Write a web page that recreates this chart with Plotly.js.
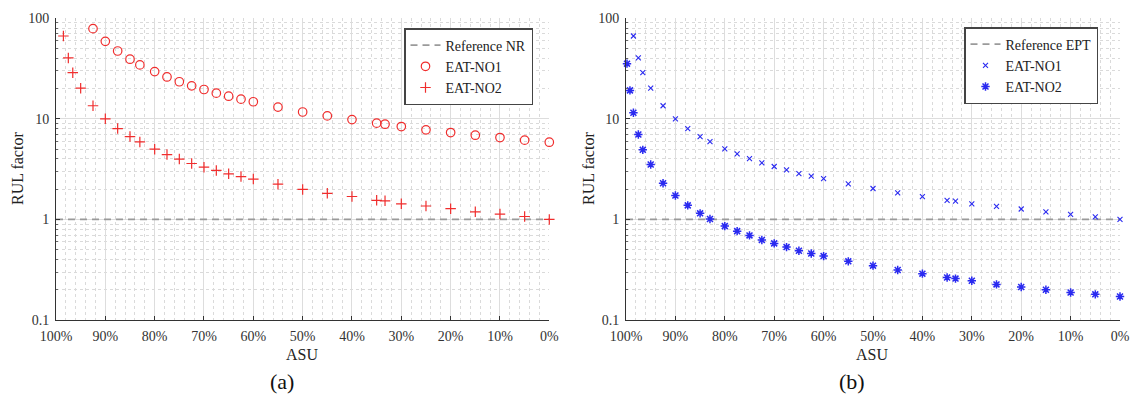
<!DOCTYPE html>
<html>
<head>
<meta charset="utf-8">
<script src="https://cdn.plot.ly/plotly-3.0.1.min.js"></script>
<style>html,body{margin:0;padding:0;background:#fff;}#chart{width:1132px;height:395px;}</style>
</head>
<body>
<div id="chart"></div>
<script>
// ---- data ----
const asuTicks = [100, 90, 80, 70, 60, 50, 40, 30, 20, 10, 0];
const asuTickLabels = ['100%', '90%', '80%', '70%', '60%', '50%', '40%', '30%', '20%', '10%', '0%'];
const rulTicks = [0.1, 1, 10, 100];
const rulTickLabels = ['0.1', '1', '10', '100'];

const refX = [100, 0];
const refY = [1, 1];

// (a) EAT-NO1
const asuA1 = [92.5, 90, 87.5, 85, 83, 80, 77.5, 75, 72.5, 70, 67.5, 65, 62.5, 60, 55, 50, 45, 40, 35, 33.3, 30, 25, 20, 15, 10, 5, 0];
const rulA1 = [78.9, 59, 47.3, 39.2, 34.4, 29.5, 26.1, 23.4, 21.3, 19.6, 18.0, 16.8, 15.7, 14.8, 13.1, 11.7, 10.7, 9.84, 9.06, 8.85, 8.39, 7.78, 7.31, 6.88, 6.52, 6.14, 5.86];
// (a) EAT-NO2
const asuA2 = [98.5, 97.5, 96.6, 95, 92.5, 90, 87.5, 85, 83, 80, 77.5, 75, 72.5, 70, 67.5, 65, 62.5, 60, 55, 50, 45, 40, 35, 33.3, 30, 25, 20, 15, 10, 5, 0];
const rulA2 = [66.7, 40.4, 28.8, 20.2, 13.5, 10.0, 8.0, 6.67, 5.9, 5.0, 4.42, 3.98, 3.6, 3.31, 3.07, 2.84, 2.67, 2.52, 2.24, 1.99, 1.82, 1.69, 1.55, 1.53, 1.43, 1.36, 1.28, 1.19, 1.13, 1.07, 1.0];
// (b) EAT-NO1
const asuB1 = [98.5, 97.5, 96.6, 95, 92.5, 90, 87.5, 85, 83, 80, 77.5, 75, 72.5, 70, 67.5, 65, 62.5, 60, 55, 50, 45, 40, 35, 33.3, 30, 25, 20, 15, 10, 5, 0];
const rulB1 = [66.7, 40.4, 28.8, 20.2, 13.5, 10, 8, 6.67, 5.95, 5.03, 4.49, 4.03, 3.66, 3.36, 3.11, 2.86, 2.69, 2.54, 2.26, 2.03, 1.84, 1.69, 1.55, 1.52, 1.43, 1.35, 1.27, 1.19, 1.12, 1.06, 1.0];
// (b) EAT-NO2
const asuB2 = [99.8, 99.2, 98.5, 97.5, 96.6, 95, 92.5, 90, 87.5, 85, 83, 80, 77.5, 75, 72.5, 70, 67.5, 65, 62.5, 60, 55, 50, 45, 40, 35, 33.3, 30, 25, 20, 15, 10, 5, 0];
const rulB2 = [35.4, 19.2, 11.5, 6.98, 4.92, 3.52, 2.29, 1.73, 1.38, 1.15, 1.01, 0.858, 0.765, 0.694, 0.624, 0.578, 0.531, 0.489, 0.459, 0.432, 0.383, 0.347, 0.314, 0.289, 0.265, 0.258, 0.246, 0.226, 0.213, 0.2, 0.188, 0.18, 0.171];

// ---- styling helpers ----
const W = 1132, H = 395;
const px = x => x / W;
const py = y => 1 - y / H;
const FONT = 'Liberation Serif';
const RED = '#f02d2d';
const BLUE = '#2a2af0';
const minorLog = [0.2,0.3,0.4,0.5,0.6,0.7,0.8,0.9,2,3,4,5,6,7,8,9,20,30,40,50,60,70,80,90];

const refLine = {color: '#9a9a9a', width: 1.8, dash: '7px,5px'};

const traces = [
  {x: refX, y: refY, xaxis: 'x', yaxis: 'y', mode: 'lines', name: 'Reference NR', line: refLine, legend: 'legend'},
  {x: asuA1, y: rulA1, xaxis: 'x', yaxis: 'y', mode: 'markers', name: 'EAT-NO1', legend: 'legend', cliponaxis: false,
   marker: {symbol: 'circle-open', size: 8.5, color: RED, line: {width: 1.2, color: RED}}},
  {x: asuA2, y: rulA2, xaxis: 'x', yaxis: 'y', mode: 'markers', name: 'EAT-NO2', legend: 'legend', cliponaxis: false,
   marker: {symbol: 'cross-thin-open', size: 7.5, color: RED, line: {width: 1.2, color: RED}}},
  {x: refX, y: refY, xaxis: 'x2', yaxis: 'y2', mode: 'lines', name: 'Reference EPT', line: refLine, legend: 'legend2'},
  {x: asuB1, y: rulB1, xaxis: 'x2', yaxis: 'y2', mode: 'markers', name: 'EAT-NO1', legend: 'legend2', cliponaxis: false,
   marker: {symbol: 'x-thin-open', size: 5, color: BLUE, line: {width: 1.1, color: BLUE}}},
  {x: asuB2, y: rulB2, xaxis: 'x2', yaxis: 'y2', mode: 'markers', name: 'EAT-NO2', legend: 'legend2', cliponaxis: false,
   marker: {symbol: 'asterisk-open', size: 7, color: BLUE, line: {width: 1.5, color: BLUE}}}
];

function xAxis(domain, anchor) {
  return {
    domain: domain, anchor: anchor, range: [100, 0], tickmode: 'array', tickvals: asuTicks, ticktext: asuTickLabels,
    showline: true, linecolor: '#333', linewidth: 1, ticks: 'inside', ticklen: 4, tickcolor: '#333',
    showgrid: true, gridcolor: '#dddddd', gridwidth: 1, zeroline: false, automargin: false,
    tickfont: {family: FONT, size: 14, color: '#333'}, ticklabelstandoff: 3,
    minor: {dtick: 2, tick0: 0, showgrid: true, gridcolor: '#dadada', gridwidth: 1, griddash: 'dot', ticks: ''}
  };
}
function yAxis(domain, anchor) {
  return {
    domain: domain, anchor: anchor, type: 'log', range: [-1, 2], tickmode: 'array', tickvals: rulTicks, ticktext: rulTickLabels,
    showline: true, linecolor: '#333', linewidth: 1, ticks: 'inside', ticklen: 4, tickcolor: '#333',
    showgrid: true, gridcolor: '#dddddd', gridwidth: 1, zeroline: false, automargin: false,
    tickfont: {family: FONT, size: 14, color: '#333'}, ticklabelstandoff: 3,
    minor: {tickmode: 'array', tickvals: minorLog, showgrid: true, gridcolor: '#dadada', gridwidth: 1, griddash: 'dot', ticks: 'inside', ticklen: 2, tickcolor: '#666'}
  };
}

const yDom = [py(320), py(18.3)];
const legendStyle = {
  bgcolor: '#fff', bordercolor: '#444', borderwidth: 1.5,
  font: {family: FONT, size: 14, color: '#222'}, xanchor: 'left', yanchor: 'top',
  tracegroupgap: 0, itemwidth: 30
};

const annFont = {family: FONT, size: 16, color: '#222'};
const layout = {
  width: W, height: H,
  margin: {l: 0, r: 0, t: 0, b: 0},
  paper_bgcolor: '#fff', plot_bgcolor: '#fff',
  font: {family: FONT, color: '#222'},
  showlegend: true,
  xaxis: xAxis([px(56), px(549.3)], 'y'),
  yaxis: yAxis(yDom, 'x'),
  xaxis2: xAxis([px(626), px(1120)], 'y2'),
  yaxis2: yAxis(yDom, 'x2'),
  legend: Object.assign({x: px(404), y: py(28)}, legendStyle),
  legend2: Object.assign({x: px(964), y: py(27)}, legendStyle),
  annotations: [
    {text: 'RUL factor', xref: 'paper', yref: 'paper', x: px(17), y: py(169), xanchor: 'center', yanchor: 'middle', textangle: -90, showarrow: false, font: annFont},
    {text: 'RUL factor', xref: 'paper', yref: 'paper', x: px(588), y: py(169), xanchor: 'center', yanchor: 'middle', textangle: -90, showarrow: false, font: annFont},
    {text: 'ASU', xref: 'paper', yref: 'paper', x: px(302), y: py(354), xanchor: 'center', yanchor: 'middle', showarrow: false, font: annFont},
    {text: 'ASU', xref: 'paper', yref: 'paper', x: px(872), y: py(354), xanchor: 'center', yanchor: 'middle', showarrow: false, font: annFont},
    {text: '(a)', xref: 'paper', yref: 'paper', x: px(282), y: py(381), xanchor: 'center', yanchor: 'middle', showarrow: false, font: {family: FONT, size: 22, color: '#111'}},
    {text: '(b)', xref: 'paper', yref: 'paper', x: px(852), y: py(381), xanchor: 'center', yanchor: 'middle', showarrow: false, font: {family: FONT, size: 22, color: '#111'}}
  ]
};

Plotly.newPlot('chart', traces, layout, {displayModeBar: false, staticPlot: true});
</script>
</body>
</html>
